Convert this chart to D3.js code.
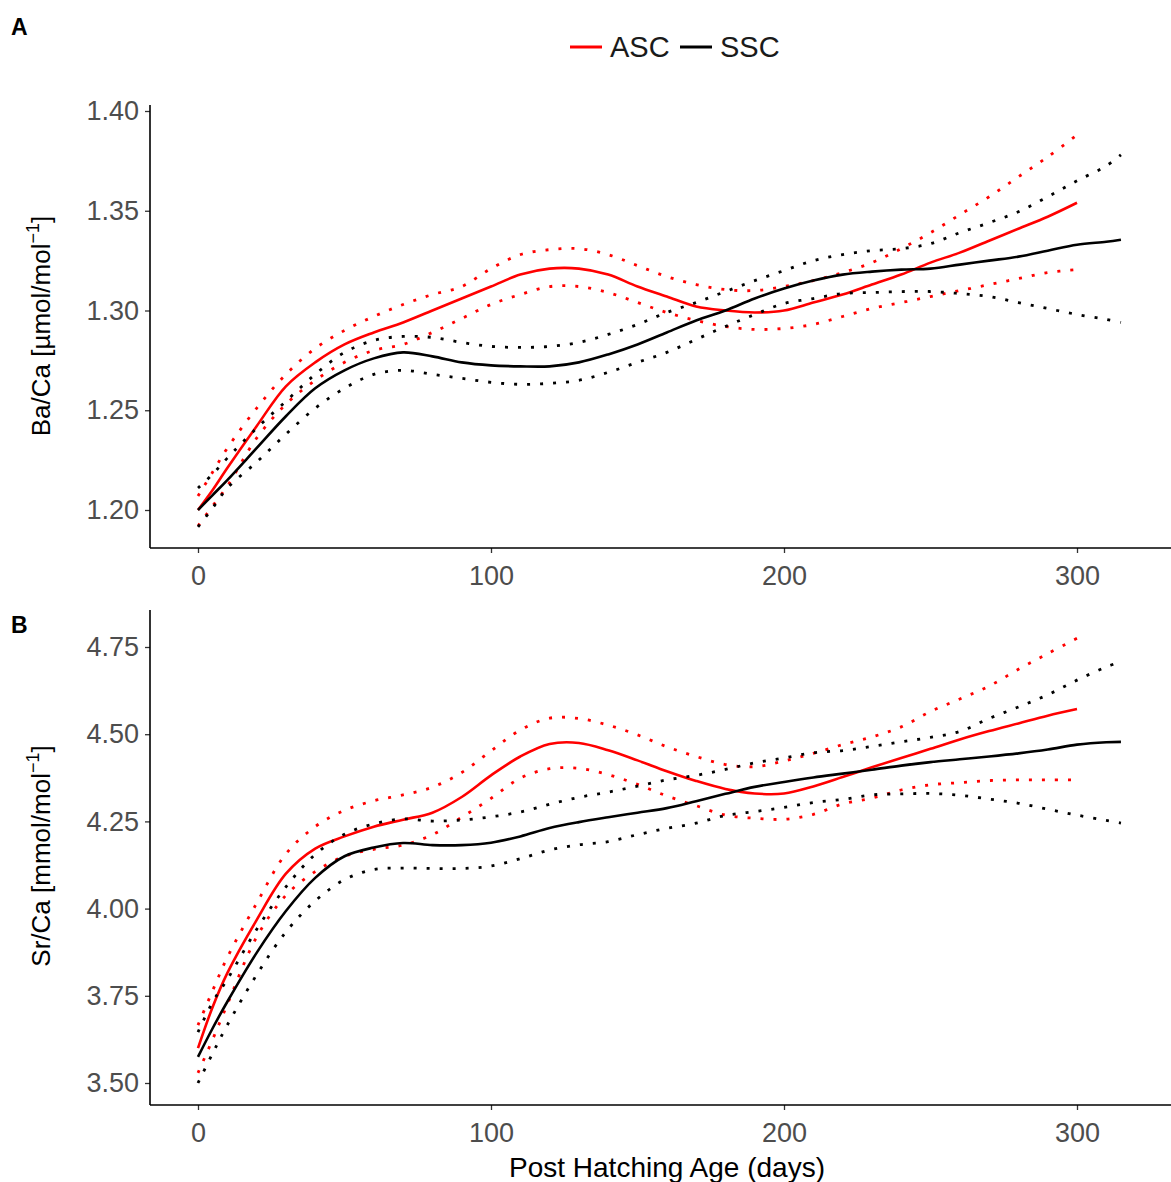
<!DOCTYPE html>
<html>
<head>
<meta charset="utf-8">
<script src="https://cdn.jsdelivr.net/npm/d3@7"></script>
<style>
  body { margin: 0; background: #fff; }
  svg { display: block; font-family: "Liberation Sans", Arial, sans-serif; }
</style>
</head>
<body>
<svg id="chart" width="1171" height="1182"></svg>
<script>
// days of the smooth fits (ASC ends ~300 d, SSC runs to ~315 d)
const ascDays = [0, 5, 10, 20, 30, 40, 50, 60, 70, 80, 90, 100, 110, 120, 130, 140, 150,
  160, 170, 180, 190, 200, 210, 220, 230, 240, 250, 260, 270, 280, 290, 300];
const sscDays = [0, 5, 10, 20, 30, 40, 50, 60, 70, 80, 90, 100, 110, 120, 130, 140, 150,
  160, 170, 180, 190, 200, 210, 220, 230, 240, 250, 260, 270, 280, 290, 300, 310, 315];

// panel A: Ba/Ca
const baAscFit = [1.200, 1.210, 1.221, 1.242, 1.262, 1.274, 1.283, 1.289, 1.294, 1.300, 1.306, 1.312,
  1.318, 1.321, 1.321, 1.318, 1.312, 1.307, 1.302, 1.300, 1.299, 1.300, 1.304, 1.308, 1.313, 1.318,
  1.324, 1.329, 1.335, 1.341, 1.347, 1.354];
const baAscUpper = [1.207, 1.219, 1.231, 1.251, 1.268, 1.281, 1.290, 1.297, 1.303, 1.308, 1.312, 1.321,
  1.328, 1.3305, 1.331, 1.328, 1.3225, 1.317, 1.313, 1.3105, 1.310, 1.312, 1.315, 1.319, 1.324, 1.331,
  1.339, 1.348, 1.357, 1.367, 1.377, 1.388];
const baAscLower = [1.192, 1.202, 1.212, 1.236, 1.253, 1.265, 1.274, 1.280, 1.283, 1.289, 1.296, 1.303,
  1.308, 1.312, 1.312, 1.309, 1.304, 1.299, 1.295, 1.292, 1.2905, 1.291, 1.293, 1.297, 1.301, 1.304,
  1.307, 1.310, 1.313, 1.316, 1.319, 1.3205];
const baSscFit = [1.200, 1.2075, 1.215, 1.231, 1.247, 1.261, 1.270, 1.276, 1.279, 1.277, 1.274, 1.2725,
  1.272, 1.272, 1.274, 1.278, 1.283, 1.289, 1.295, 1.300, 1.306, 1.311, 1.315, 1.318, 1.3195, 1.3205,
  1.321, 1.323, 1.325, 1.327, 1.330, 1.333, 1.3345, 1.3355];
const baSscUpper = [1.211, 1.218, 1.226, 1.241, 1.2545, 1.268, 1.279, 1.285, 1.287, 1.2865, 1.284, 1.282,
  1.2815, 1.282, 1.284, 1.288, 1.293, 1.299, 1.304, 1.3095, 1.315, 1.320, 1.325, 1.328, 1.330, 1.331,
  1.3335, 1.339, 1.344, 1.3495, 1.357, 1.365, 1.3725, 1.378];
const baSscLower = [1.1915, 1.201, 1.211, 1.224, 1.238, 1.251, 1.261, 1.268, 1.270, 1.268, 1.266, 1.264,
  1.263, 1.2635, 1.265, 1.269, 1.274, 1.279, 1.2855, 1.292, 1.298, 1.3035, 1.306, 1.3085, 1.309, 1.3095,
  1.3095, 1.3085, 1.307, 1.304, 1.301, 1.298, 1.2955, 1.294];

// panel B: Sr/Ca
const srAscFit = [3.600, 3.718, 3.815, 3.967, 4.100, 4.172, 4.207, 4.235, 4.255, 4.275, 4.320, 4.382,
  4.436, 4.472, 4.475, 4.454, 4.425, 4.394, 4.366, 4.343, 4.330, 4.330, 4.350, 4.377, 4.405, 4.432,
  4.458, 4.485, 4.509, 4.531, 4.553, 4.572];
const srAscUpper = [3.666, 3.765, 3.860, 4.015, 4.157, 4.235, 4.282, 4.309, 4.326, 4.348, 4.390, 4.452,
  4.512, 4.546, 4.545, 4.526, 4.498, 4.464, 4.436, 4.413, 4.407, 4.423, 4.445, 4.470, 4.492, 4.521,
  4.565, 4.601, 4.638, 4.686, 4.731, 4.775];
const srAscLower = [3.529, 3.625, 3.725, 3.918, 4.038, 4.106, 4.150, 4.170, 4.182, 4.212, 4.262, 4.316,
  4.374, 4.401, 4.402, 4.384, 4.356, 4.323, 4.295, 4.268, 4.259, 4.256, 4.270, 4.300, 4.317, 4.340,
  4.355, 4.361, 4.367, 4.369, 4.369, 4.369];
const srSscFit = [3.575, 3.657, 3.733, 3.873, 3.993, 4.088, 4.150, 4.175, 4.188, 4.182, 4.182, 4.189,
  4.207, 4.231, 4.248, 4.262, 4.275, 4.288, 4.308, 4.329, 4.349, 4.363, 4.376, 4.387, 4.398, 4.410,
  4.420, 4.428, 4.436, 4.445, 4.456, 4.470, 4.477, 4.478];
const srSscUpper = [3.646, 3.732, 3.797, 3.940, 4.062, 4.155, 4.213, 4.243, 4.257, 4.251, 4.254, 4.263,
  4.277, 4.299, 4.319, 4.334, 4.351, 4.369, 4.382, 4.399, 4.418, 4.432, 4.447, 4.453, 4.465, 4.478,
  4.491, 4.508, 4.545, 4.578, 4.613, 4.655, 4.693, 4.708];
const srSscLower = [3.500, 3.585, 3.666, 3.810, 3.933, 4.022, 4.083, 4.112, 4.116, 4.115, 4.115, 4.122,
  4.143, 4.168, 4.183, 4.192, 4.212, 4.230, 4.245, 4.267, 4.278, 4.290, 4.304, 4.313, 4.326, 4.329,
  4.330, 4.325, 4.314, 4.302, 4.285, 4.268, 4.253, 4.245];

const xTicks = [0, 100, 200, 300];
const baTicks = [1.20, 1.25, 1.30, 1.35, 1.40];
const srTicks = [3.50, 3.75, 4.00, 4.25, 4.50, 4.75];

const groups = ['ASC', 'SSC'];
const colors = {ASC: '#ff0000', SSC: '#000000'};

const svg = d3.select('#chart');
const W = 1171;
const left = 150;

const x = d3.scaleLinear().domain([0, 300]).range([198, 1077]);

const panels = [
  {letter: 'A', letterY: 35, top: 105, bottom: 548, domain: [1.20, 1.40], range: [510, 111], ticks: baTicks,
    title: 'Ba/Ca [µmol/mol', titleY: 326,
    series: {
      ASC: [baAscFit, baAscUpper, baAscLower],
      SSC: [baSscFit, baSscUpper, baSscLower]
    }},
  {letter: 'B', letterY: 633, top: 610, bottom: 1105, domain: [3.50, 4.75], range: [1083, 647], ticks: srTicks,
    title: 'Sr/Ca [mmol/mol', titleY: 856,
    series: {
      ASC: [srAscFit, srAscUpper, srAscLower],
      SSC: [srSscFit, srSscUpper, srSscLower]
    }}
];

const line = (y) => d3.line()
  .x(d => x(d[0]))
  .y(d => y(d[1]))
  .curve(d3.curveCatmullRom.alpha(0.5));

panels.forEach(p => {
  const y = d3.scaleLinear().domain(p.domain).range(p.range);
  const g = svg.append('g');

  // panel letter
  g.append('text')
    .attr('x', 11).attr('y', p.letterY)
    .attr('font-size', 23).attr('font-weight', 'bold')
    .text(p.letter);

  // curves: dotted bounds, then fitted line
  groups.forEach(grp => {
    const days = grp === 'ASC' ? ascDays : sscDays;
    const [fit, upper, lower] = p.series[grp];
    [upper, lower].forEach(vals => {
      g.append('path')
        .attr('d', line(y)(days.map((d, i) => [d, vals[i]])))
        .attr('fill', 'none')
        .attr('stroke', colors[grp])
        .attr('stroke-width', 2.8)
        .attr('stroke-dasharray', '3 10');
    });
    g.append('path')
      .attr('d', line(y)(days.map((d, i) => [d, fit[i]])))
      .attr('fill', 'none')
      .attr('stroke', colors[grp])
      .attr('stroke-width', 2.6);
  });

  // axes
  const yAxis = d3.axisLeft(y).tickValues(p.ticks).tickFormat(d3.format('.2f')).tickSize(5).tickPadding(6);
  const ya = g.append('g').attr('transform', `translate(${left},0)`).call(yAxis);
  ya.select('.domain').remove();
  ya.append('line').attr('x1', 0).attr('x2', 0).attr('y1', p.top).attr('y2', p.bottom)
    .attr('stroke', '#000').attr('stroke-width', 1.6);

  const xAxis = d3.axisBottom(x).tickValues(xTicks).tickSize(5).tickPadding(13);
  const xa = g.append('g').attr('transform', `translate(0,${p.bottom})`).call(xAxis);
  xa.select('.domain').remove();
  xa.append('line').attr('x1', left).attr('x2', W).attr('y1', 0).attr('y2', 0)
    .attr('stroke', '#000').attr('stroke-width', 1.6);

  [ya, xa].forEach(a => {
    a.selectAll('.tick line').attr('stroke', '#333').attr('stroke-width', 1.3);
    a.selectAll('.tick text').attr('fill', '#4d4d4d').attr('font-size', 27)
      .attr('font-family', '"Liberation Sans", Arial, sans-serif');
  });

  // y title with superscript
  const t = g.append('text')
    .attr('transform', `translate(50,${p.titleY}) rotate(-90)`)
    .attr('text-anchor', 'middle')
    .attr('font-size', 26)
    .attr('fill', '#000');
  t.append('tspan').text(p.title);
  t.append('tspan').attr('font-size', 18).attr('dy', -11).text('−1');
  t.append('tspan').attr('dy', 11).text(']');
});

// x title
svg.append('text')
  .attr('x', 667).attr('y', 1177)
  .attr('text-anchor', 'middle')
  .attr('font-size', 28)
  .text('Post Hatching Age (days)');

// legend
const legend = svg.append('g').attr('transform', 'translate(568,47)');
const legendPos = {ASC: 0, SSC: 110};
groups.forEach(grp => {
  const lg = legend.append('g').attr('transform', `translate(${legendPos[grp]},0)`);
  lg.append('line').attr('x1', 2).attr('x2', 34).attr('y1', 0).attr('y2', 0)
    .attr('stroke', colors[grp]).attr('stroke-width', 3);
  lg.append('text').attr('x', 42).attr('y', 10).attr('font-size', 29).attr('fill', '#1a1a1a').text(grp);
});
</script>
</body>
</html>
